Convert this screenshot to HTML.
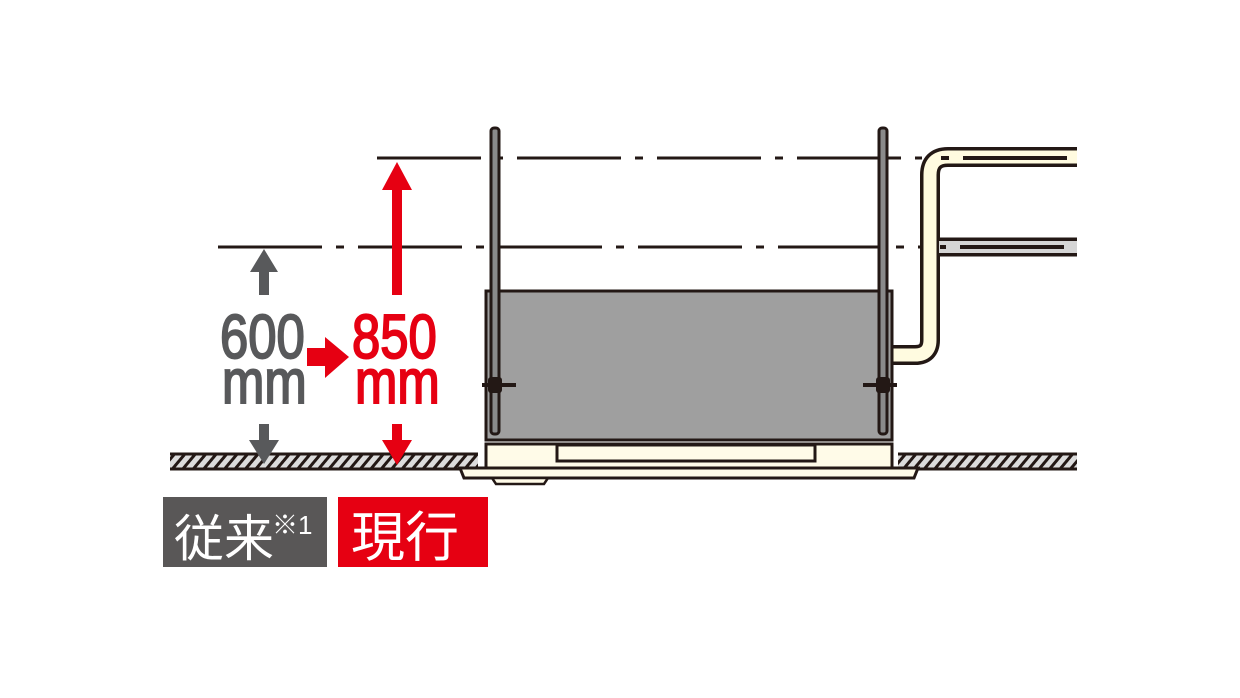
<!DOCTYPE html>
<html><head><meta charset="utf-8"><style>
html,body{margin:0;padding:0;background:#fff;}
svg{display:block}
</style></head><body>
<svg width="1240" height="698" viewBox="0 0 1240 698" xmlns="http://www.w3.org/2000/svg">
<defs>
<pattern id="hatch" width="8" height="8" patternUnits="userSpaceOnUse" patternTransform="rotate(40)">
<rect width="8" height="8" fill="#dcdcdc"/>
<rect width="3" height="8" fill="#231815"/>
</pattern>
</defs>
<line x1="377" y1="158" x2="922" y2="158" stroke="#231815" stroke-width="3" stroke-dasharray="104 14 8 14"/>
<line x1="218" y1="247" x2="922" y2="247" stroke="#231815" stroke-width="3" stroke-dasharray="104 14 8 14"/>

<path d="M1077 157 L948 157 Q930 157 930 175 L930 340 Q930 355 915 355 L893 355" fill="none" stroke="#231815" stroke-width="20"/>
<path d="M1077 157 L948 157 Q930 157 930 175 L930 340 Q930 355 915 355 L893 355" fill="none" stroke="#fffbe0" stroke-width="13"/>
<path d="M939 247 L1077 247" stroke="#231815" stroke-width="19"/>
<path d="M939 247 L1077 247" stroke="#d5d5d5" stroke-width="12"/>
<line x1="940" y1="158" x2="1077" y2="158" stroke="#231815" stroke-width="4" stroke-dasharray="104 14 8 14" stroke-dashoffset="-23"/>
<line x1="940" y1="247" x2="1077" y2="247" stroke="#231815" stroke-width="4" stroke-dasharray="104 14 8 14" stroke-dashoffset="-20"/>

<rect x="170" y="454" width="308" height="15" fill="url(#hatch)"/>
<line x1="170" y1="454" x2="478" y2="454" stroke="#231815" stroke-width="3"/>
<line x1="170" y1="469" x2="478" y2="469" stroke="#231815" stroke-width="3"/>
<rect x="898" y="454" width="179" height="15" fill="url(#hatch)"/>
<line x1="898" y1="454" x2="1077" y2="454" stroke="#231815" stroke-width="3"/>
<line x1="898" y1="469" x2="1077" y2="469" stroke="#231815" stroke-width="3"/>

<rect x="486" y="291" width="406" height="149" fill="#9f9f9f" stroke="#231815" stroke-width="3"/>
<rect x="486" y="444" width="406" height="24" fill="#fffbe8" stroke="#231815" stroke-width="3"/>
<rect x="557" y="445" width="258" height="16" fill="#fffbe8" stroke="#231815" stroke-width="3"/>
<path d="M460 468 L918 468 L914 478 L464 478 Z" fill="#fffbe8" stroke="#231815" stroke-width="3"/>
<path d="M492 478 L548 478 L544 484 L496 484 Z" fill="#fffbe8" stroke="#231815" stroke-width="2.5"/>

<rect x="491" y="128" width="8" height="306" rx="3" fill="#8a8a8a" stroke="#231815" stroke-width="3"/>
<rect x="879" y="128" width="8" height="306" rx="3" fill="#8a8a8a" stroke="#231815" stroke-width="3"/>
<g fill="#231815">
<rect x="482" y="383" width="34" height="4"/>
<rect x="488" y="377" width="14" height="16" rx="3"/>
<rect x="863" y="383" width="34" height="4"/>
<rect x="876" y="377" width="14" height="16" rx="3"/>
</g>

<g fill="#58595b">
<polygon points="264,249 250,272 278,272"/>
<rect x="259" y="271" width="10" height="24"/>
<rect x="259" y="424" width="10" height="17"/>
<polygon points="249,440 279,440 264,464"/>
</g>
<g fill="#e60012">
<polygon points="397,162 382,190 412,190"/>
<rect x="392" y="189" width="10" height="106"/>
<rect x="392" y="424" width="10" height="17"/>
<polygon points="382,440 412,440 397,465"/>
<rect x="307" y="348" width="20" height="18"/>
<polygon points="325,337 349,357 325,378"/>
</g>

<g font-family="'Liberation Sans', sans-serif" font-size="62" stroke-width="2">
<text x="220" y="358" fill="#58595b" stroke="#58595b" transform="translate(220 0) scale(0.82 1) translate(-220 0)">600</text>
<text x="222" y="403" fill="#58595b" stroke="#58595b" transform="translate(222 0) scale(0.82 1) translate(-222 0)">mm</text>
<text x="352" y="358" fill="#e60012" stroke="#e60012" transform="translate(352 0) scale(0.82 1) translate(-352 0)">850</text>
<text x="355" y="403" fill="#e60012" stroke="#e60012" transform="translate(355 0) scale(0.82 1) translate(-355 0)">mm</text>
</g>

<rect x="163" y="497" width="164" height="70" fill="#595757"/>
<text x="174" y="556" fill="#fff" font-family="'Liberation Sans','Noto Sans CJK JP',sans-serif" font-size="50">従来</text>
<text x="272" y="534" fill="#fff" font-family="'Liberation Sans','Noto Sans CJK JP',sans-serif" font-size="26">※1</text>
<rect x="338" y="497" width="150" height="70" fill="#e60012"/>
<text x="351" y="556" fill="#fff" font-family="'Liberation Sans','Noto Sans CJK JP',sans-serif" font-size="54">現行</text>
</svg>
</body></html>
